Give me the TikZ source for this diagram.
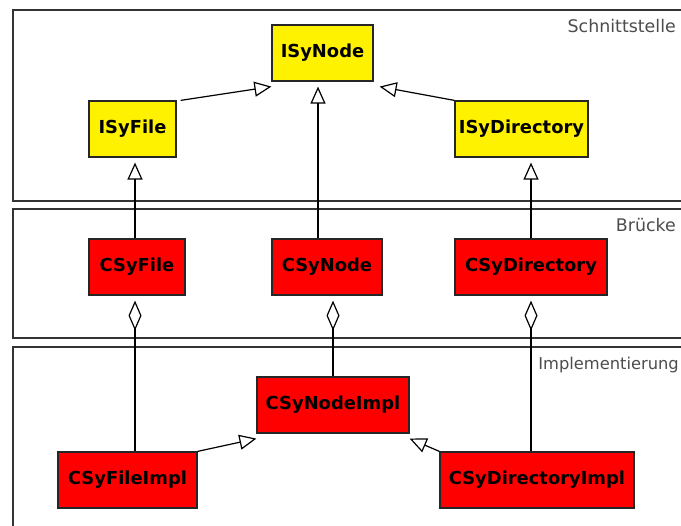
\documentclass[tikz,border=0pt]{standalone}
\usepackage{fontspec}
\setmainfont{DejaVu Sans}
\usetikzlibrary{positioning,calc,arrows.meta}

\begin{document}
\begin{tikzpicture}[x=1pt,y=-1pt,
  iface/.style={draw=black!85,line width=1.2pt,fill=yellow,minimum height=56pt,inner sep=0pt,
    font=\fontsize{17.9}{20}\selectfont\bfseries},
  impl/.style={iface,fill=red},
  layer/.style={draw=black!80,line width=1.5pt},
  layername/.style={text=black!70,inner sep=0pt,font=\fontsize{17.4}{20}\selectfont},
  inh/.style={-{Triangle[open,length=17pt,width=15pt]},line width=1.2pt},
  aggr/.style={{Diamond[open,length=30pt,width=13pt]}-,line width=1.2pt}]
  \useasboundingbox (0,0) rectangle (681,526);
  \clip (0,0) rectangle (681,526);
  % Schichten
  \draw[layer] (13,10) rectangle (700,201);
  \draw[layer] (13,209) rectangle (700,338);
  \draw[layer] (13,347) rectangle (700,540);
  \node[layername,anchor=base east] (lschnitt) at (676,33) {Schnittstelle};
  \node[layername,anchor=base east] (lbruecke) at (676,232) {Brücke};
  \node[layername,anchor=base east,font=\fontsize{16.3}{20}\selectfont] (limpl) at (679,370) {Implementierung};
  % Klassen
  \node[iface,minimum width=101pt] (isynode) at (322.5,53) {ISyNode};
  \node[iface,minimum width=87pt] (isyfile) at (132.5,129) {ISyFile};
  \node[iface,minimum width=133pt] (isydir) at (521.5,129) {ISyDirectory};
  \node[impl,minimum width=96pt] (csyfile) at (137,267) {CSyFile};
  \node[impl,minimum width=110pt] (csynode) at (327,267) {CSyNode};
  \node[impl,minimum width=152pt] (csydir) at (531,267) {CSyDirectory};
  \node[impl,minimum width=152pt] (csynodeimpl) at (333,405) {CSyNodeImpl};
  \node[impl,minimum width=139pt] (csyfileimpl) at (127.5,480) {CSyFileImpl};
  \node[impl,minimum width=194pt] (csydirimpl) at (537,480) {CSyDirectoryImpl};
  % Vererbung
  \draw[inh] ([xshift=4pt]isyfile.north east) -- ([yshift=-5pt]isynode.south west);
  \draw[inh] (isydir.north west) -- ([xshift=6pt,yshift=-5pt]isynode.south east);
  \draw[inh] ([xshift=-2pt]csyfile.north) -- ([xshift=-2pt,yshift=-5pt]csyfile.north |- isyfile.south);
  \draw[inh] ([xshift=-9pt]csynode.north) -- ([xshift=-9pt,yshift=-5pt]csynode.north |- isynode.south);
  \draw[inh] (csydir.north) -- ([yshift=-5pt]csydir.north |- isydir.south);
  \draw[inh] (csyfileimpl.north east) -- ([yshift=-5pt]csynodeimpl.south west);
  \draw[inh] (csydirimpl.north west) -- ([yshift=-5pt]csynodeimpl.south east);
  % Aggregation
  \draw[aggr] ([xshift=-2pt,yshift=-5pt]csyfile.south) -- ([xshift=-2pt]csyfile.south |- csyfileimpl.north);
  \draw[aggr] ([yshift=-5pt]csynodeimpl.north |- csynode.south) -- (csynodeimpl.north);
  \draw[aggr] ([yshift=-5pt]csydir.south) -- (csydir.south |- csydirimpl.north);
\end{tikzpicture}
\end{document}
